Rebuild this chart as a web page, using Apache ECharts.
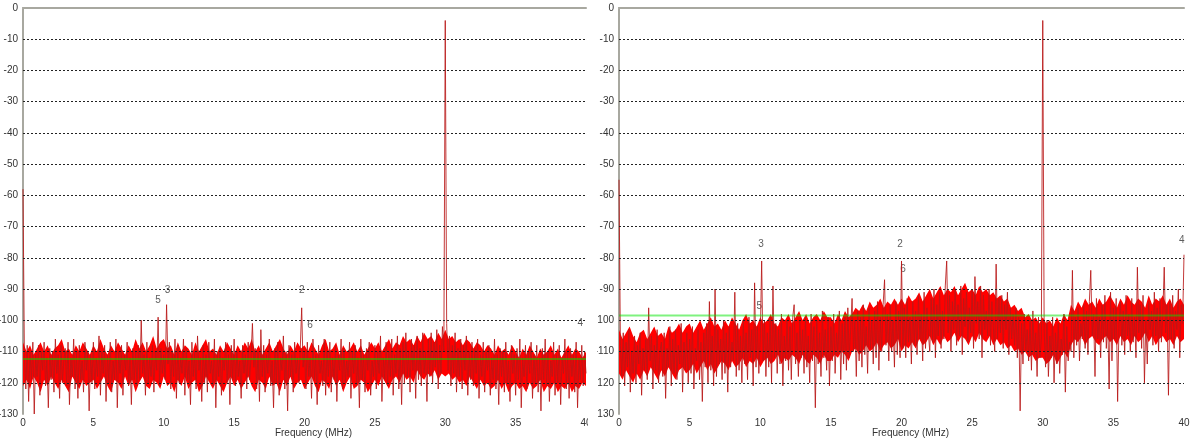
<!DOCTYPE html>
<html>
<head>
<meta charset="utf-8">
<script src="https://cdn.jsdelivr.net/npm/echarts@6/dist/echarts.min.js"></script>
<style>
html,body{margin:0;padding:0;background:#fff;}
#left{position:absolute;left:0;top:0;width:588px;height:438px;}
#right{position:absolute;left:597px;top:0;width:593px;height:438px;}
</style>
</head>
<body>
<div id="left"></div>
<div id="right"></div>
<script>
// frequency step of the sampled spectra (MHz) and of the dense noise band (MHz)
const freqStep = 0.1;
const bandStep = 0.25;
const xTicks = [0, 5, 10, 15, 20, 25, 30, 35, 40];
const yTicks = [0, -10, -20, -30, -40, -50, -60, -70, -80, -90, -100, -110, -120, -130];
const xAxisTitle = 'Frequency (MHz)';

// Left spectrum (dB), one row per MHz, 0.1 MHz apart
const leftSpectrum = [
  -58,-112,-122,-108,-126,-110,-119,-107,-130,-111,
  -118,-108,-124,-110,-116,-107,-121,-112,-128,-109,
  -119,-110,-123,-106,-117,-111,-125,-108,-120,-113,
  -109,-121,-107,-127,-112,-118,-106,-122,-110,-125,
  -108,-119,-113,-123,-107,-116,-110,-129,-111,-120,
  -107,-122,-112,-118,-105,-124,-110,-117,-108,-126,
  -111,-120,-107,-123,-113,-119,-106,-128,-110,-117,
  -108,-124,-111,-116,-107,-121,-112,-127,-109,-119,
  -110,-121,-108,-119,-100,-117,-111,-124,-107,-120,
  -112,-118,-108,-123,-110,-116,-99,-121,-109,-117,
  -111,-119,-95,-114,-107,-122,-110,-118,-106,-125,
  -108,-120,-112,-117,-106,-124,-109,-119,-113,-127,
  -107,-118,-110,-122,-105,-116,-112,-126,-108,-120,
  -111,-123,-107,-117,-113,-121,-106,-128,-110,-118,
  -109,-124,-112,-116,-107,-120,-111,-127,-108,-119,
  -106,-121,-110,-118,-113,-125,-108,-117,-111,-122,
  -107,-119,-112,-101,-115,-109,-122,-110,-126,-103,
  -118,-108,-123,-111,-117,-106,-121,-113,-128,-109,
  -120,-107,-124,-112,-116,-105,-122,-110,-129,-108,
  -118,-111,-123,-107,-117,-112,-120,-109,-96,-115,
  -110,-122,-107,-118,-112,-125,-106,-119,-111,-127,
  -108,-117,-113,-121,-106,-124,-110,-118,-107,-123,
  -112,-119,-108,-126,-111,-116,-106,-122,-109,-120,
  -113,-118,-107,-125,-110,-117,-108,-121,-112,-128,
  -106,-119,-111,-123,-109,-116,-107,-124,-113,-118,
  -108,-122,-110,-117,-105,-126,-112,-119,-107,-121,
  -110,-118,-106,-124,-111,-117,-105,-122,-109,-127,
  -107,-120,-104,-118,-110,-123,-106,-116,-108,-125,
  -105,-119,-109,-121,-104,-117,-110,-126,-106,-118,
  -104,-120,-107,-115,-103,-122,-108,-117,-102,-110,
  -4,-101,-116,-105,-121,-108,-117,-104,-123,-109,
  -118,-106,-122,-108,-116,-105,-124,-110,-119,-107,
  -121,-109,-117,-106,-125,-111,-118,-107,-123,-110,
  -116,-108,-124,-112,-119,-106,-122,-111,-127,-109,
  -118,-110,-123,-107,-120,-113,-126,-108,-117,-111,
  -124,-109,-119,-106,-128,-112,-118,-108,-122,-110,
  -117,-107,-125,-111,-120,-108,-123,-112,-129,-109,
  -119,-106,-121,-110,-126,-113,-118,-107,-124,-111,
  -120,-108,-127,-112,-117,-106,-122,-110,-125,-109,
  -118,-111,-123,-107,-128,-112,-119,-108,-121,-110,
  -117
];

// Left dense noise band edges (dB), 0.25 MHz apart, one row per 5 MHz
const leftBandTop = [
  -107,-110,-108,-111,-109,-107,-110,-108,-111,-109,-108,-106,-110,-109,-111,-108,-110,-107,-109,-111,
  -108,-110,-106,-109,-111,-108,-110,-107,-109,-111,-108,-110,-106,-109,-107,-110,-108,-105,-109,-107,
  -106,-109,-108,-111,-107,-110,-108,-109,-111,-107,-110,-108,-106,-110,-109,-111,-108,-110,-107,-109,
  -111,-108,-110,-107,-109,-106,-110,-108,-111,-109,-107,-110,-108,-106,-109,-111,-108,-110,-107,-109,
  -108,-110,-107,-109,-111,-108,-106,-110,-109,-107,-111,-108,-110,-109,-107,-110,-108,-111,-109,-107,
  -109,-107,-110,-108,-106,-109,-107,-108,-105,-107,-106,-108,-105,-107,-104,-106,-105,-107,-104,-106,
  -103,-106,-105,-107,-106,-108,-106,-107,-109,-107,-108,-110,-108,-109,-111,-108,-110,-109,-111,-108,
  -110,-112,-109,-111,-108,-110,-112,-109,-111,-110,-108,-111,-109,-112,-110,-108,-111,-109,-110,-112,
  -110
];
const leftBandBottom = [
  -121,-119,-122,-118,-120,-123,-119,-121,-118,-120,-122,-119,-121,-123,-118,-120,-122,-119,-121,-120,
  -119,-122,-120,-118,-121,-123,-119,-120,-122,-118,-121,-119,-123,-120,-118,-121,-122,-119,-120,-122,
  -118,-121,-120,-123,-119,-121,-118,-122,-120,-119,-123,-121,-118,-120,-122,-119,-121,-123,-120,-118,
  -121,-119,-122,-120,-118,-121,-123,-119,-120,-122,-118,-121,-120,-123,-119,-121,-118,-122,-120,-119,
  -122,-120,-118,-121,-123,-119,-120,-122,-118,-121,-119,-123,-120,-118,-122,-121,-119,-120,-123,-121,
  -119,-121,-118,-120,-122,-119,-118,-120,-117,-119,-118,-120,-116,-118,-119,-117,-118,-116,-119,-117,
  -118,-117,-119,-118,-120,-119,-121,-118,-120,-122,-119,-121,-120,-122,-121,-119,-122,-120,-123,-121,
  -120,-122,-121,-123,-120,-122,-121,-119,-123,-121,-122,-120,-123,-121,-122,-120,-123,-121,-122,-120,
  -121
];

// Right spectrum (dB), one row per MHz, 0.1 MHz apart
const rightSpectrum = [
  -55,-108,-118,-104,-121,-107,-115,-103,-123,-110,
  -117,-105,-120,-108,-114,-104,-124,-109,-116,-106,
  -119,-96,-113,-105,-122,-108,-116,-103,-120,-110,
  -107,-118,-104,-125,-109,-115,-102,-121,-106,-117,
  -103,-119,-108,-114,-101,-123,-107,-116,-104,-120,
  -106,-117,-102,-122,-109,-113,-103,-119,-107,-126,
  -104,-115,-101,-120,-94,-116,-105,-121,-90,-118,
  -103,-114,-106,-119,-100,-117,-104,-123,-102,-115,
  -107,-113,-91,-118,-101,-116,-105,-120,-100,-114,
  -104,-119,-99,-112,-103,-121,-88,-115,-102,-117,
  -106,-81,-113,-100,-118,-104,-115,-99,-120,-89,
  -112,-101,-117,-103,-114,-98,-121,-105,-113,-100,
  -116,-102,-119,-99,-95,-114,-104,-118,-100,-112,
  -103,-117,-99,-115,-105,-120,-98,-113,-102,-128,
  -100,-114,-104,-118,-97,-112,-103,-116,-99,-121,
  -102,-113,-98,-117,-104,-111,-97,-119,-101,-114,
  -99,-116,-96,-112,-103,-93,-110,-100,-118,-97,
  -113,-99,-115,-95,-111,-102,-117,-96,-109,-100,
  -114,-97,-112,-94,-116,-99,-110,-95,-87,-108,
  -98,-113,-95,-110,-100,-115,-94,-111,-97,-112,
  -81,-109,-96,-112,-93,-107,-99,-114,-94,-108,
  -97,-111,-92,-106,-98,-113,-91,-109,-96,-104,
  -110,-93,-107,-90,-112,-95,-105,-91,-109,-97,
  -106,-89,-81,-104,-92,-110,-94,-103,-90,-108,
  -95,-105,-89,-111,-93,-102,-91,-107,-96,-104,
  -90,-109,-86,-101,-94,-106,-89,-112,-92,-103,
  -97,-105,-90,-108,-94,-102,-110,-82,-106,-93,
  -104,-92,-109,-95,-103,-91,-111,-96,-106,-98,
  -108,-96,-112,-99,-129,-101,-114,-98,-110,-103,
  -113,-100,-116,-97,-111,-104,-118,-99,-112,-106,
  -4,-103,-115,-100,-118,-105,-112,-99,-120,-104,
  -114,-101,-117,-106,-111,-98,-123,-102,-113,-107,
  -110,-84,-112,-99,-108,-96,-113,-101,-106,-95,
  -109,-97,-111,-94,-84,-105,-98,-118,-93,-106,
  -99,-112,-95,-107,-92,-109,-100,-122,-91,-113,
  -96,-106,-93,-126,-101,-94,-108,-97,-111,-92,
  -105,-98,-110,-93,-107,-99,-112,-83,-104,-95,
  -109,-92,-120,-100,-114,-94,-103,-97,-108,-91,
  -105,-96,-110,-93,-107,-98,-83,-104,-95,-124,
  -94,-106,-92,-109,-97,-103,-90,-112,-95,-101,
  -79
];

// Right dense noise band edges (dB), 0.25 MHz apart, one row per 5 MHz
const rightBandTop = [
  -103,-106,-104,-102,-105,-107,-104,-103,-106,-104,-102,-105,-104,-106,-102,-104,-103,-101,-104,-102,
  -101,-104,-102,-100,-103,-101,-99,-102,-101,-103,-100,-102,-99,-101,-103,-100,-98,-101,-100,-102,
  -99,-101,-100,-98,-101,-102,-99,-100,-98,-101,-99,-97,-100,-98,-101,-99,-98,-100,-97,-99,
  -99,-101,-98,-100,-97,-99,-98,-96,-97,-95,-97,-94,-96,-95,-93,-96,-94,-95,-93,-95,
  -93,-95,-92,-94,-93,-91,-94,-92,-90,-93,-91,-89,-92,-90,-91,-89,-92,-90,-88,-91,
  -90,-92,-89,-91,-90,-92,-91,-93,-92,-94,-93,-96,-95,-97,-96,-99,-98,-100,-99,-101,
  -99,-101,-100,-102,-99,-101,-98,-100,-95,-97,-94,-96,-93,-95,-94,-96,-93,-95,-94,-92,
  -94,-96,-93,-95,-92,-94,-95,-93,-94,-96,-92,-95,-93,-94,-92,-95,-93,-96,-94,-93,
  -95
];
const rightBandBottom = [
  -117,-119,-116,-118,-120,-117,-119,-116,-118,-115,-117,-119,-116,-118,-115,-117,-119,-116,-115,-117,
  -116,-114,-117,-115,-113,-116,-114,-117,-115,-113,-114,-116,-113,-115,-114,-112,-115,-113,-114,-112,
  -115,-113,-112,-114,-113,-111,-114,-112,-113,-111,-112,-114,-111,-113,-114,-111,-112,-114,-111,-113,
  -113,-111,-112,-110,-111,-113,-110,-109,-111,-110,-108,-110,-109,-107,-110,-108,-107,-109,-108,-106,
  -110,-108,-109,-107,-109,-106,-108,-107,-105,-108,-106,-108,-105,-107,-106,-104,-107,-105,-106,-108,
  -105,-107,-104,-106,-107,-105,-108,-106,-108,-107,-109,-108,-110,-109,-111,-110,-112,-111,-113,-112,
  -112,-114,-113,-111,-114,-112,-110,-112,-108,-106,-107,-105,-108,-106,-105,-107,-108,-106,-105,-107,
  -106,-108,-105,-107,-106,-108,-105,-107,-106,-104,-107,-105,-108,-106,-105,-107,-106,-108,-105,-107,
  -106
];

// Average (noise floor) lines, dB
const leftAverage = -112.4;
const rightAverage = -98.5;

// Peak markers: labels, frequencies (MHz), label levels (dB)
const leftMarkerNames = ['2', '3', '4', '5', '6'];
const leftMarkerFreqs = [19.8, 10.26, 39.6, 9.6, 20.4];
const leftMarkerDb    = [-90.5, -90.5, -100.8, -93.7, -101.5];
const rightMarkerNames = ['2', '3', '4', '5', '6'];
const rightMarkerFreqs = [19.9, 10.06, 39.85, 9.93, 20.1];
const rightMarkerDb    = [-75.8, -75.8, -74.3, -95.6, -83.8];

function build(spectrum, bandTop, bandBottom, average, mNames, mFreqs, mDb, gridLeft, gridRight) {
  const pts = spectrum.map((v, i) => [+(i * freqStep).toFixed(2), v]);
  const bx = i => +(i * bandStep).toFixed(2);
  const marks = mNames.map((n, i) => ({ name: n, value: [mFreqs[i], mDb[i]] }));
  const gridVals = yTicks.filter(v => v !== yTicks[0] && v !== yTicks[yTicks.length - 1]);
  const font = 'Liberation Sans, Arial, sans-serif';
  return {
    animation: false,
    backgroundColor: '#ffffff',
    grid: { left: gridLeft, right: gridRight, top: 8, bottom: 24, outerBoundsMode: 'none', containLabel: false },
    xAxis: [{
      type: 'value', min: xTicks[0], max: xTicks[xTicks.length - 1], interval: 5,
      name: xAxisTitle, nameLocation: 'middle', nameGap: 14, nameMoveOverlap: false,
      nameTextStyle: { color: '#333', fontSize: 10, fontFamily: font, padding: [0, 0, 0, 18] },
      axisLine: { show: true, lineStyle: { color: '#e2e2e2', width: 1 } },
      axisTick: { show: false },
      axisLabel: { color: '#333', fontSize: 10, fontFamily: font, margin: 4 },
      splitLine: { show: false }
    }, {
      type: 'value', position: 'top', min: 0, max: 40,
      axisLine: { show: true, lineStyle: { color: '#a8a8a0', width: 2 } },
      axisTick: { show: false }, axisLabel: { show: false }, splitLine: { show: false }
    }],
    yAxis: {
      type: 'value', min: yTicks[yTicks.length - 1], max: yTicks[0], interval: 10,
      axisLine: { show: true, lineStyle: { color: '#a8a8a0', width: 2 } },
      axisTick: { show: false },
      axisLabel: { color: '#333', fontSize: 10, fontFamily: font, margin: 5 },
      splitLine: { show: false }
    },
    series: [{
      type: 'scatter', data: marks, symbolSize: 0, z: 1, silent: true,
      label: { show: true, position: 'inside', formatter: p => p.name, color: '#333', fontSize: 10, fontFamily: font }
    }, {
      type: 'custom', z: 2, silent: true, clip: true,
      data: [[bx(0), bandTop[0]]],
      encode: { x: 0, y: 1 },
      renderItem: (params, api) => {
        const up = bandTop.map((v, i) => api.coord([bx(i), v]));
        const down = bandBottom.map((v, i) => api.coord([bx(i), v])).reverse();
        return { type: 'polygon', shape: { points: up.concat(down) }, style: { fill: '#ff0000' } };
      }
    }, {
      type: 'line', data: pts, showSymbol: false, symbol: 'none', z: 3,
      lineStyle: { color: '#b81818', width: 1, opacity: 0.85 }
    }, {
      type: 'line', data: [[0, average], [40, average]], showSymbol: false, symbol: 'none', z: 4,
      lineStyle: { color: 'rgba(0,230,0,0.5)', width: 2 },
      markLine: {
        silent: true, symbol: ['none', 'none'], label: { show: false },
        lineStyle: { color: '#222', width: 1, type: [2, 2] },
        data: gridVals.map(v => ({ yAxis: v }))
      }
    }]
  };
}

const cl = echarts.init(document.getElementById('left'));
cl.setOption(build(leftSpectrum, leftBandTop, leftBandBottom, leftAverage, leftMarkerNames, leftMarkerFreqs, leftMarkerDb, 23, 2));
const cr = echarts.init(document.getElementById('right'));
cr.setOption(build(rightSpectrum, rightBandTop, rightBandBottom, rightAverage, rightMarkerNames, rightMarkerFreqs, rightMarkerDb, 22, 6));
</script>
</body>
</html>
